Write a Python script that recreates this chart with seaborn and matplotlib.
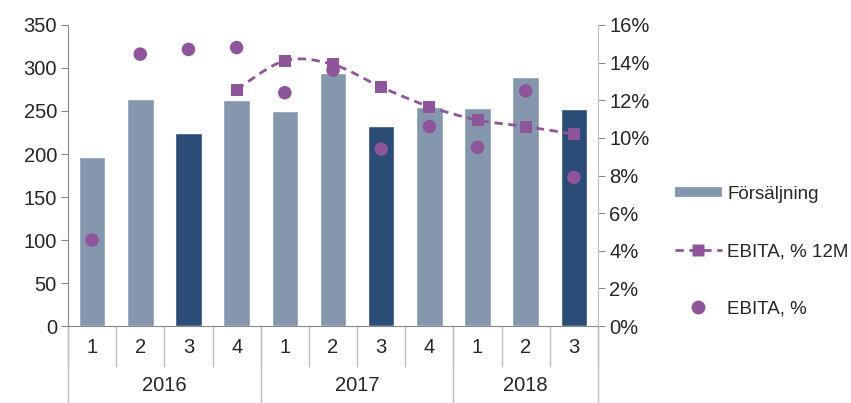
import numpy as np
import pandas as pd
import matplotlib.pyplot as plt
from matplotlib.path import Path
from matplotlib.patches import PathPatch
from matplotlib.lines import Line2D
from matplotlib.ticker import FuncFormatter
import seaborn as sns

# data
years = ["2016", "2017", "2018"]
quarters = ["1", "2", "3", "4", "1", "2", "3", "4", "1", "2", "3"]
year_of = ["2016"] * 4 + ["2017"] * 4 + ["2018"] * 3
sales = [196, 264, 224, 263, 250, 294, 233, 255, 254, 289, 252]
shade = ["light", "light", "dark", "light", "light", "light", "dark", "light", "light", "light", "dark"]
ebita = [4.57, 14.45, 14.7, 14.8, 12.4, 13.6, 9.4, 10.6, 9.5, 12.5, 7.9]
ebita_12m = [np.nan, np.nan, np.nan, 12.57, 14.1, 13.9, 12.7, 11.66, 10.95, 10.6, 10.2]

light = "#8597ad"
dark = "#2a4c77"
purple = "#8f559b"
grid_grey = "#bfbfbf"

df = pd.DataFrame({
    "period": [f"{y} Q{q}" for y, q in zip(year_of, quarters)],
    "pos": np.arange(len(quarters)),
    "sales": sales,
    "shade": shade,
    "ebita": ebita,
    "ebita_12m": ebita_12m,
})

sns.set_style("white")
plt.rcParams["font.family"] = ["Liberation Sans", "DejaVu Sans"]
fs = 14.5

fig = plt.figure(figsize=(8.51, 4.03), dpi=100)
ax = fig.add_axes([0.0799, 0.191, 0.6228, 0.747])

sns.barplot(data=df, x="period", y="sales", hue="shade",
            palette={"light": light, "dark": dark}, dodge=False,
            width=0.55, saturation=1, legend=False, ax=ax)
ax.set_xlim(-0.5, len(quarters) - 0.5)
ax.set_ylim(0, 350)
ax.set_yticks(range(0, 351, 50))
ax.set_xlabel("")
ax.set_ylabel("")
ax.set_xticks([])
ax.tick_params(axis="y", labelsize=fs, length=5, color="#888888", left=True, pad=3)

for side in ["top", "right"]:
    ax.spines[side].set_visible(False)
ax.spines["left"].set_color("#888888")
ax.spines["bottom"].set_color("#888888")

ax2 = ax.twinx()
ax2.set_ylim(0, 16)
ax2.set_yticks(range(0, 17, 2))
ax2.yaxis.set_major_formatter(FuncFormatter(lambda v, p: f"{v:.0f}%"))
ax2.tick_params(axis="y", labelsize=fs, length=5, color="#888888", right=True, pad=3)
for side in ["top", "left", "bottom"]:
    ax2.spines[side].set_visible(False)
ax2.spines["right"].set_color(grid_grey)

# smoothed dashed line through the 12M points (Catmull-Rom as Bezier)
pts = df.dropna(subset=["ebita_12m"])[["pos", "ebita_12m"]].to_numpy(dtype=float)
verts = [tuple(pts[0])]
codes = [Path.MOVETO]
for i in range(len(pts) - 1):
    p0 = pts[i - 1] if i > 0 else pts[i]
    p1, p2 = pts[i], pts[i + 1]
    p3 = pts[i + 2] if i + 2 < len(pts) else pts[i + 1]
    c1 = p1 + (p2 - p0) / 6
    c2 = p2 - (p3 - p1) / 6
    verts += [tuple(c1), tuple(c2), tuple(p2)]
    codes += [Path.CURVE4] * 3
ax2.add_patch(PathPatch(Path(verts, codes), fill=False, edgecolor=purple,
                        lw=2, linestyle=(0, (3, 2))))

sns.scatterplot(data=df, x="pos", y="ebita_12m", marker="s", s=75,
                color=purple, edgecolor="none", ax=ax2, zorder=3)
sns.scatterplot(data=df, x="pos", y="ebita", marker="o", s=95,
                color=purple, edgecolor="none", ax=ax2, zorder=3)
ax2.set_xlim(-0.5, len(quarters) - 0.5)
ax2.set_xlabel("")
ax2.set_ylabel("")

# two level category axis
tr = ax.get_xaxis_transform()
qdrop = -40 / 301
ydrop = -77 / 301
for i in range(len(quarters) + 1):
    ax.plot([i - 0.5, i - 0.5], [0, qdrop], color=grid_grey, lw=1,
            transform=tr, clip_on=False)
for i, q in enumerate(quarters):
    ax.text(i, -21 / 301, q, transform=tr, ha="center", va="center", fontsize=fs)
bounds = [-0.5]
for y in years:
    idx = [i for i, v in enumerate(year_of) if v == y]
    bounds.append(idx[-1] + 0.5)
    ax.text((idx[0] + idx[-1]) / 2, -59 / 301, y, transform=tr,
            ha="center", va="center", fontsize=fs)
for b in bounds:
    ax.plot([b, b], [0, ydrop], color=grid_grey, lw=1, transform=tr, clip_on=False)

handles = [
    Line2D([0], [0], color=light, lw=7, solid_capstyle="butt"),
    Line2D([0], [0], color=purple, lw=2, linestyle=(0, (3, 2)),
           marker="s", markersize=9, markeredgecolor="none"),
    Line2D([0], [0], color="none", marker="o", markersize=10,
           markerfacecolor=purple, markeredgecolor="none"),
]
labels = ["Försäljning", "EBITA, % 12M", "EBITA, %"]
fig.legend(handles, labels, loc="center left", bbox_to_anchor=(0.793, 0.375),
           frameon=False, fontsize=13.5, labelspacing=2.15, handlelength=2.5,
           handletextpad=0.3, borderpad=0, borderaxespad=0)

fig.savefig("out.png", dpi=100)
